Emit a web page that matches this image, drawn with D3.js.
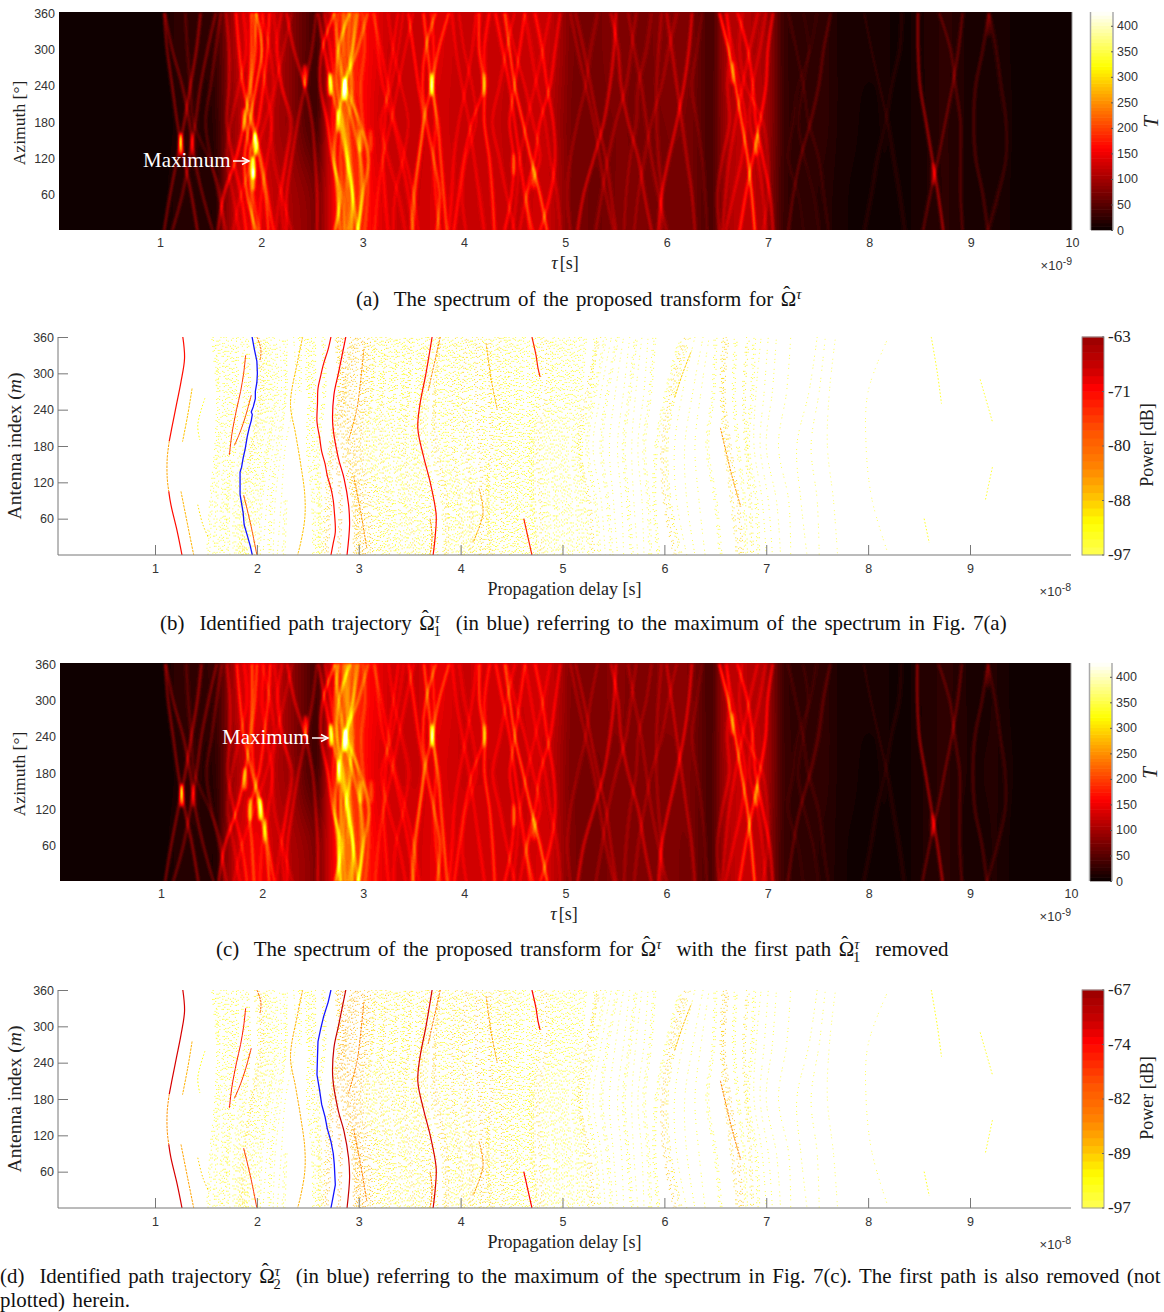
<!DOCTYPE html>
<html lang="en">
<head>
<meta charset="UTF-8">
<title>Spectrum and path trajectories</title>
<script src="https://cdn.jsdelivr.net/npm/d3@7"></script>
<style>
  body { margin: 0; background: #fff; }
  svg { display: block; }
  text { white-space: pre; }
  .serif { font-family: "Liberation Serif", serif; fill: #222; }
  .tick text, .sans { font-family: "Liberation Sans", sans-serif; font-size: 12.5px; fill: #333; }
</style>
</head>
<body>
<script type="text/javascript">
// spectrum background level, one value per 0.1 ns, read at azimuth 300 / 180 / 60
var baseTop = [0,0,0,0,0,0,0,0,0,0,3,22,24,24,24,28,70,110,130,135,125,115,90,70,50,35,110,160,190,175,155,140,125,120,120,120,130,135,130,120,120,125,125,125,120,120,125,125,120,100,75,72,72,72,78,78,72,72,72,78,78,78,72,50,38,90,110,110,105,105,75,32,22,20,22,24,15,8,6,6,6,6,5,5,6,14,18,20,18,12,8,10,12,8,2,0,0,0,0,0];
var baseMid = [0,0,0,0,0,0,0,0,0,0,0,6,20,25,12,25,65,100,120,120,115,100,90,70,45,35,110,155,180,170,150,130,122,120,120,120,128,132,125,120,120,120,120,120,112,112,120,120,112,92,72,68,68,68,72,74,72,72,68,72,74,74,68,50,42,85,108,118,112,108,75,34,24,22,24,24,15,8,6,5,5,6,5,5,6,12,18,20,16,12,10,12,12,10,4,0,0,0,0,0];
var baseBottom = [0,0,0,0,0,0,0,0,0,0,3,15,16,16,15,15,80,115,135,145,130,115,105,95,85,70,115,165,195,185,165,145,130,125,125,125,132,138,132,125,122,125,125,125,118,118,125,128,122,98,72,68,65,65,72,74,74,74,72,72,72,68,68,50,42,86,112,118,115,105,70,32,22,20,20,16,12,7,5,5,5,5,5,5,6,12,16,20,16,10,8,10,12,8,2,0,0,0,0,0];

// ridge positions in tau (ns) at these azimuths, first entry of a ridge is its height
var ridgeAz = [360,300,240,180,120,60,0];
var ridgesShared = [
  [75,1.04,1.07,1.12,1.17,1.235,1.31,1.37],[75,1.40,1.36,1.30,1.24,1.17,1.10,1.04],
  [60,1.05,1.12,1.22,1.29,1.34,1.42,1.52],[60,1.55,1.47,1.40,1.35,1.29,1.22,1.12],
  [45,1.60,1.55,1.50,1.45,1.50,1.58,1.65],[35,1.25,1.27,1.30,1.33,1.48,1.60,1.62],
  [85,1.90,1.90,1.88,1.83,1.75,1.63,1.57],[85,1.75,1.78,1.82,1.90,1.98,2.04,2.07],
  [70,2.08,2.06,2.02,1.97,1.88,1.90,1.92],[70,1.95,1.93,1.90,1.92,2.00,2.06,2.12],
  [40,2.20,2.15,2.20,2.30,2.25,2.20,2.22],[55,1.65,1.68,1.68,1.66,1.72,1.80,1.85],
  [65,2.25,2.32,2.43,2.50,2.53,2.55,2.55],[55,2.54,2.50,2.43,2.36,2.30,2.25,2.25],
  [85,2.72,2.60,2.58,2.65,2.70,2.78,2.72],[85,2.87,2.76,2.745,2.80,2.855,2.90,2.89],
  [75,2.56,2.62,2.69,2.77,2.84,2.90,2.95],[75,2.95,2.90,2.82,2.75,2.72,2.75,2.78],
  [65,3.05,2.95,2.83,2.90,2.98,3.00,2.95],[65,2.72,2.76,2.83,2.97,3.06,3.00,2.95],
  [40,2.82,2.82,2.84,2.84,2.86,2.83,2.82],[40,2.80,2.80,2.78,2.80,2.78,2.80,2.82],
  [50,2.92,2.90,2.88,2.95,2.97,2.98,2.96],
  [40,3.35,3.30,3.25,3.22,3.20,3.22,3.25],[40,3.12,3.15,3.20,3.30,3.38,3.45,3.50],
  [65,3.45,3.50,3.55,3.60,3.56,3.52,3.50],
  [85,3.60,3.64,3.68,3.74,3.77,3.80,3.83],[75,3.85,3.75,3.68,3.60,3.55,3.50,3.48],
  [75,3.72,3.62,3.59,3.63,3.70,3.76,3.73],[50,3.68,3.70,3.70,3.72,3.70,3.72,3.76],
  [80,4.15,4.15,4.20,4.20,4.25,4.28,4.30],[55,4.25,4.20,4.20,4.08,4.00,3.95,3.90],
  [60,4.31,4.38,4.45,4.50,4.55,4.60,4.65],[60,4.60,4.55,4.50,4.45,4.49,4.47,4.40],
  [100,4.40,4.45,4.50,4.58,4.66,4.75,4.82],[60,4.70,4.77,4.82,4.88,4.90,4.85,4.75],
  [55,4.95,4.90,4.85,4.75,4.70,4.62,4.68],
  [70,5.50,5.48,5.44,5.38,5.28,5.18,5.12],[55,5.45,5.52,5.55,5.62,5.72,5.78,5.85],
  [75,6.25,6.22,6.17,6.10,6.02,5.95,5.92],[50,6.00,6.05,6.10,6.15,6.20,6.25,6.28],
  [35,5.95,5.92,5.90,5.90,5.92,5.95,5.95],[40,5.10,5.18,5.25,5.32,5.40,5.45,5.50],
  [120,6.52,6.61,6.68,6.74,6.80,6.84,6.87],[80,7.05,7.00,6.98,6.92,6.85,6.78,6.72],
  [70,6.70,6.80,6.85,6.88,6.95,7.02,7.05],[45,6.60,6.62,6.60,6.62,6.55,6.50,6.52],
  [40,7.62,7.55,7.50,7.42,7.32,7.25,7.20],[22,7.20,7.28,7.35,7.40,7.50,7.55,7.60],
  [20,7.95,8.02,8.10,8.18,8.24,8.30,8.35],[16,8.32,8.30,8.22,8.16,8.08,8.02,7.95],
  [42,8.69,8.80,8.85,8.90,8.90,8.90,8.92],[90,8.48,8.48,8.50,8.56,8.62,8.68,8.73],
  [50,8.92,8.88,8.82,8.75,8.68,8.60,8.53],
  [42,9.18,9.12,9.05,9.03,9.05,9.12,9.17],[32,9.18,9.25,9.30,9.35,9.35,9.27,9.17]
];
// the fainter texture between the main ridges
var ridgesFine = [
  [30,2.12,2.16,2.20,2.28,2.24,2.18,2.14],[30,2.30,2.22,2.14,2.10,2.12,2.20,2.30],
  [35,1.82,1.85,1.78,1.70,1.66,1.72,1.78],[35,2.02,2.00,2.04,2.10,2.06,2.00,1.98],[30,2.00,2.08,2.12,2.04,1.92,1.80,1.72],
  [45,2.62,2.68,2.72,2.70,2.72,2.76,2.74],[45,2.88,2.86,2.90,2.86,2.88,2.90,2.86],[40,3.00,3.02,2.98,3.00,3.05,3.05,3.02],[40,2.76,2.74,2.80,2.82,2.84,2.86,2.85],
  [35,3.10,3.18,3.25,3.32,3.42,3.50,3.55],[35,3.50,3.42,3.35,3.28,3.20,3.15,3.12],[30,3.25,3.30,3.38,3.45,3.40,3.32,3.30],[30,3.40,3.35,3.28,3.18,3.25,3.35,3.42],
  [35,3.88,3.92,3.98,4.05,4.10,4.15,4.20],[35,4.12,4.08,4.02,3.95,3.90,3.88,3.85],[30,3.95,4.00,4.08,4.12,4.02,3.98,4.02],
  [35,4.50,4.42,4.35,4.28,4.35,4.42,4.50],[35,4.42,4.50,4.60,4.68,4.75,4.62,4.55],[30,4.85,4.78,4.70,4.62,4.55,4.52,4.48],[30,4.60,4.66,4.72,4.80,4.85,4.92,4.95],
  [35,5.05,5.12,5.20,5.28,5.34,5.40,5.48],[30,5.32,5.25,5.20,5.12,5.05,5.02,5.05],[35,5.70,5.65,5.60,5.50,5.42,5.36,5.30],
  [35,5.62,5.68,5.75,5.80,5.85,5.92,6.00],[30,5.85,5.80,5.72,5.70,5.64,5.60,5.58],[30,6.10,6.02,5.95,5.85,5.78,5.72,5.68],[25,6.35,6.30,6.25,6.30,6.35,6.38,6.40],
  [40,6.58,6.65,6.72,6.78,6.74,6.66,6.58],[40,6.90,6.82,6.75,6.68,6.62,6.58,6.55],[35,6.98,6.92,6.85,6.82,6.90,6.95,6.98],[30,6.75,6.72,6.78,6.95,7.00,7.00,6.95],
  [18,7.35,7.40,7.35,7.30,7.36,7.45,7.50],[15,7.48,7.42,7.30,7.25,7.20,7.30,7.35]
];
var ridgesFirstPath = [[100,1.95,2.005,1.95,1.885,1.835,1.86,1.95],[50,1.92,1.95,1.90,1.85,1.90,1.92,1.98]];
var ridgesExtraC = [[65,2.75,2.72,2.74,2.76,2.78,2.76,2.76],[65,2.84,2.84,2.86,2.88,2.82,2.80,2.78]];

// hot spots where ridges cross: tau, azimuth, height
var spotsShared = [[1.205,143,150],[1.32,143,55],[2.43,256,100],[2.68,242,150],[2.82,234,150],[2.76,182,80],[2.98,149,60],[3.08,149,40],[3.68,242,110],[4.2,242,60],[4.49,110,50],[4.69,88,50],[6.65,261,60],[6.89,143,60],[8.63,94,50],[9.18,340,25]];
var spotsA = [[1.92,105,170],[1.94,143,150],[1.83,184,70],[1.92,85,80]];
var spotsC = [[1.83,170,90],[1.98,120,130],[1.88,120,80],[2.03,85,60]];

// dotted traces: level in dB, then tau at these antenna indices
var stippleAz = [360,270,180,90,0];
var stippleTraces = [
  [-93,1.57,1.62,null,null,null],[-94,1.62,1.62,1.60,1.55,1.52],[-93,1.66,1.68,1.63,1.60,1.58],[-94,1.70,1.72,1.68,1.66,1.62],
  [-92,1.75,1.76,1.73,1.70,1.66],[-93,1.80,1.80,1.78,1.72,1.72],[-94,1.85,1.88,1.84,1.78,1.78],
  [-92,1.90,1.92,1.88,1.82,1.82],[-92,1.98,2.02,1.94,1.86,1.84],[-90,2.02,2.05,1.96,1.88,1.86],[-93,2.06,2.08,2.00,1.92,1.88],
  [-92,2.08,2.12,2.04,1.96,1.90],[-94,2.12,2.16,2.10,2.00,1.96],[-94,2.17,2.20,2.12,2.04,2.02],[-95,2.22,2.24,2.16,2.10,2.06],
  [-94,2.26,2.28,2.20,2.14,2.12],[-95,2.30,2.28,2.24,2.18,2.16],[-95,2.36,2.38,2.28,2.24,2.20],[-94,2.42,2.42,null,2.28,2.26],
  [-94,2.48,2.50,null,null,2.30],[-93,2.52,2.52,2.50,2.55,2.56],[-92,2.56,2.56,2.55,2.60,2.60],[-92,2.65,2.66,2.60,2.62,2.62],
  [-90,2.78,2.80,2.72,2.68,2.65],[-88,2.80,2.82,2.74,2.72,2.68],[-87,2.84,2.85,2.78,2.82,2.80],
  [-88,2.92,2.86,2.84,2.94,2.96],[-89,2.95,2.88,2.88,2.96,2.98],[-87,2.97,2.92,2.90,2.98,3.00],[-89,3.00,2.96,2.94,3.00,3.02],
  [-87,3.04,3.02,2.96,3.03,3.05],[-90,3.07,3.05,3.00,3.06,3.10],[-88,3.10,3.08,3.02,3.10,3.12],[-92,3.14,3.12,3.06,3.14,3.16],
  [-90,3.17,3.13,3.09,3.18,3.20],[-93,3.21,3.19,3.13,3.20,3.24],[-92,3.24,3.22,3.16,3.24,3.27],[-90,3.28,3.24,3.21,3.28,3.30],
  [-93,3.31,3.30,3.24,3.31,3.35],[-92,3.36,3.33,3.28,3.34,3.38],[-91,3.39,3.36,3.33,3.40,3.41],[-93,3.43,3.42,3.37,3.44,3.46],
  [-92,3.46,3.44,3.40,3.46,3.50],[-90,3.50,3.48,3.44,3.50,3.54],[-93,3.53,3.50,3.47,3.55,3.57],[-92,3.58,3.56,3.52,3.58,3.60],
  [-91,3.62,3.60,3.55,3.62,3.64],[-92,3.66,3.62,3.58,3.66,3.68],[-90,3.70,3.64,3.62,3.70,3.72],[-92,3.74,3.68,3.66,3.74,3.76],
  [-91,3.78,3.76,3.72,3.82,3.84],[-89,3.80,3.74,3.76,3.86,3.86],[-92,3.84,3.80,3.80,3.88,3.90],[-93,3.88,3.84,3.84,3.92,3.94],
  [-92,3.91,3.88,3.87,3.95,3.98],[-90,3.95,3.92,3.92,3.98,4.02],[-93,3.98,3.96,3.95,4.01,4.05],[-92,4.02,3.98,4.00,4.06,4.08],
  [-89,4.06,4.02,4.05,4.10,4.10],[-92,4.10,4.06,4.08,4.12,4.14],[-93,4.13,4.10,4.12,4.16,4.18],[-89,4.16,4.15,4.18,4.21,4.20],
  [-91,4.20,4.20,4.22,4.26,4.24],[-93,4.24,4.23,4.25,4.28,4.28],[-89,4.28,4.28,4.30,4.26,4.30],[-92,4.31,4.30,4.34,4.32,4.33],
  [-93,4.35,4.35,4.37,4.35,4.37],[-90,4.38,4.38,4.40,4.40,4.41],[-92,4.43,4.42,4.44,4.44,4.44],[-93,4.46,4.45,4.47,4.46,4.48],
  [-91,4.50,4.48,4.50,4.50,4.52],[-93,4.54,4.53,4.54,4.54,4.55],[-92,4.58,4.56,4.58,4.56,4.58],[-93,4.62,4.60,4.62,4.60,4.62],
  [-93,4.66,4.66,4.66,4.64,4.66],[-92,4.72,4.70,4.68,4.68,4.70],[-92,4.76,4.74,4.70,4.70,4.74],[-91,4.80,4.78,4.72,4.72,4.76],[-90,4.84,4.84,4.76,4.78,4.80],[-93,4.88,4.88,4.80,4.82,4.84],
  [-94,4.92,4.90,4.84,4.86,4.88],[-93,4.96,4.94,4.88,4.92,4.92],[-94,5.00,4.98,4.92,4.95,4.96],[-94,5.04,5.02,4.96,5.00,5.00],
  [-93,5.08,5.06,5.00,5.04,5.06],[-94,5.12,5.10,5.04,5.08,5.10],[-93,5.17,5.14,5.10,5.14,5.15],[-94,5.22,5.18,5.14,5.18,5.20],
  [-92,5.32,5.28,5.18,5.22,5.26],[-90,5.36,5.24,5.16,5.26,5.30],[-94,5.42,5.32,5.24,5.32,5.36],[-95,5.48,5.38,5.30,5.38,5.42],
  [-94,5.54,5.44,5.38,5.44,5.48],[-95,5.60,5.52,5.46,5.50,5.54],[-95,5.66,5.60,5.54,5.58,5.60],[-94,5.72,5.66,5.60,5.64,5.68],
  [-95,5.78,5.72,5.68,5.70,5.74],[-95,5.84,5.80,5.74,5.78,5.80],[-94,5.90,5.86,5.80,5.84,5.86],[-93,6.16,6.02,5.92,5.90,5.94],
  [-89,6.20,6.06,5.98,6.00,6.10],[-91,6.24,6.10,6.02,6.05,6.16],[-95,6.30,6.18,6.10,6.12,6.22],[-95,6.38,6.28,6.20,6.22,6.30],
  [-95,6.44,6.36,6.30,6.34,6.40],[-94,6.50,6.48,6.42,6.50,6.55],[-90,6.58,6.56,6.60,6.66,6.72],[-89,6.62,6.58,6.64,6.72,6.76],
  [-93,6.70,6.68,6.72,6.78,6.80],[-91,6.82,6.78,6.80,6.84,6.86],[-94,6.88,6.86,6.82,6.90,6.92],[-95,6.95,6.90,6.88,6.96,7.00],
  [-95,7.02,6.98,6.94,7.02,7.06],[-95,7.10,7.06,7.00,7.10,7.14],[-95,7.24,7.20,7.12,7.22,7.24],[-95,7.50,7.42,7.30,7.34,7.40],
  [-95,7.58,7.52,7.44,7.50,7.52],[-96,7.68,7.62,7.60,7.66,7.70],[-96,8.20,8.00,7.98,8.04,8.20]
];

// strokes on the delay plots: level in dB, then antenna index / tau pairs
var pathLines = [
  [-72,[360,1.273],[325,1.29],[286,1.255],[248,1.21],[209,1.164],[188,1.14]],[-86,[188,1.14],[160,1.12],[127,1.12],[105,1.135]],[-72,[105,1.135],[83,1.156],[39,1.218],[0,1.265]],
  [-71,[360,2.873],[300,2.80],[264,2.756],[215,2.745],[160,2.80],[127,2.855],[83,2.90],[50,2.91],[0,2.885]],
  [-72,[360,3.72],[300,3.66],[248,3.60],[209,3.58],[160,3.64],[121,3.70],[66,3.76],[30,3.75],[0,3.73]],
  [-74,[360,4.70],[330,4.74],[308,4.76],[294,4.78]],[-74,[60,4.62],[30,4.66],[0,4.70]],
  [-76,[330,1.89],[300,1.87],[270,1.84],[240,1.80],[200,1.755],[165,1.73]],
  [-78,[264,1.945],[230,1.89],[205,1.84],[181,1.78]],[-82,[360,2.00],[340,2.04],[320,2.03]],
  [-78,[99,1.87],[50,1.94],[0,2.00]],
  [-88,[360,2.45],[320,2.40],[250,2.33],[200,2.38],[150,2.43],[100,2.47],[60,2.47],[20,2.43],[0,2.40]],
  [-88,[275,1.364],[230,1.32],[187,1.27]],[-87,[105,1.255],[50,1.32],[0,1.38]],
  [-93,[259,1.49],[215,1.42],[190,1.44]],[-90,[83,1.42],[50,1.47],[27,1.53]],
  [-84,[360,3.80],[300,3.72],[270,3.68]],[-85,[60,3.70],[30,3.72],[0,3.70]],
  [-85,[340,3.05],[290,3.02],[240,2.98],[190,2.90]],[-85,[130,2.95],[70,3.02],[10,3.08]],
  [-87,[350,4.25],[290,4.30],[240,4.36]],[-86,[110,4.18],[70,4.22],[20,4.12]],
  [-89,[260,6.10],[300,6.18],[335,6.26]],[-85,[210,6.55],[160,6.62],[120,6.68],[80,6.75]],
  [-94,[360,8.62],[300,8.68],[250,8.72]],[-94,[60,8.55],[20,8.60]],[-95,[290,9.10],[220,9.22]],[-95,[145,9.22],[90,9.15]]
];
var firstPath = [[360,1.953],[340,1.975],[320,2.0],[300,2.005],[285,2.0],[270,1.985],[258,1.985],[245,1.965],[236,1.945],[232,1.955],[222,1.945],[210,1.925],[195,1.905],[175,1.885],[160,1.865],[145,1.85],[137,1.835],[120,1.835],[100,1.835],[85,1.85],[70,1.865],[50,1.875],[30,1.91],[15,1.935],[0,1.955]];
var secondPath = [[360,2.727],[340,2.70],[316,2.655],[295,2.625],[275,2.60],[250,2.595],[220,2.59],[195,2.615],[171,2.636],[150,2.67],[132,2.69],[110,2.727],[90,2.75],[72,2.76],[38,2.77],[20,2.75],[0,2.727]];

var tauTicks = [1,2,3,4,5,6,7,8,9,10];
var delayTicks = [1,2,3,4,5,6,7,8,9];
var azTicks = [60,120,180,240,300,360];
var heatTicks = [0,50,100,150,200,250,300,350,400];
var powerTicksB = [-97,-88.5,-80,-71.5,-63];
var powerTicksD = [-97,-89.5,-82,-74.5,-67];
var heatMax = 427;

var svg = d3.select("body").append("svg").attr("width", 1164).attr("height", 1312);

// MATLAB hot, 64 steps
var hotRamp = d3.scaleLinear().domain([0, 160, 320, 427]).range(["#0a0000", "#ff0000", "#ffff00", "#ffffff"]).clamp(true);
function hot(v) { return hotRamp((Math.floor(v / heatMax * 63.99) + 0.5) / 64 * heatMax); }

// delay plot colours, 28 steps, t = 0 at the weak end
var powerRamp = d3.scaleLinear().domain([0, 0.147, 0.294, 0.412, 0.559, 0.765, 0.853, 1])
  .range(["#ffff55", "#ffff00", "#ffb400", "#ff8000", "#ff5500", "#ff0000", "#cc0000", "#990000"]);

function gray(v) { var g = Math.min(255, Math.round(v / heatMax * 255)); return "rgb(" + g + "," + g + "," + g + ")"; }

function heatPanel(o) {
  var x = d3.scaleLinear().domain([1, 10]).range(o.xr);
  var y = d3.scaleLinear().domain([0, 360]).range([o.bottom + 1, o.top + 1]);
  var w = o.x1 - o.x0, h = o.bottom - o.top;

  // background level, scaled up with smoothing
  var small = document.createElement("canvas");
  small.width = baseTop.length; small.height = 3;
  var sc = small.getContext("2d");
  [baseTop, baseMid, baseBottom].forEach(function(row, j) {
    row.forEach(function(v, i) { sc.fillStyle = gray(v * o.gain); sc.fillRect(i, j, 1, 1); });
  });

  var canvas = document.createElement("canvas");
  canvas.width = w; canvas.height = h;
  var ctx = canvas.getContext("2d", { willReadFrequently: true });
  ctx.fillStyle = "#000"; ctx.fillRect(0, 0, w, h);
  ctx.imageSmoothingEnabled = true;
  ctx.imageSmoothingQuality = "high";
  ctx.drawImage(small, x(0) - o.x0, 0, x(10) - x(0), h);

  // ridges add up in value, then everything goes through the colormap
  ctx.globalCompositeOperation = "lighter";
  ctx.translate(-o.x0, -o.top);
  var line = d3.line().x(function(d) { return x(d[1]); }).y(function(d) { return y(d[0]); })
    .curve(d3.curveCatmullRom).context(ctx);
  ctx.filter = "blur(1.3px)";
  ctx.lineWidth = 2.4;
  o.ridges.forEach(function(r) {
    ctx.beginPath();
    line(ridgeAz.map(function(a, i) { return [a, r[i + 1]]; }));
    ctx.strokeStyle = gray(r[0]);
    ctx.stroke();
  });
  ctx.filter = "blur(1.6px)";
  o.spots.forEach(function(s) {
    ctx.beginPath();
    ctx.ellipse(x(s[0]), y(s[1]), 1.9, 12, 0, 0, 2 * Math.PI);
    ctx.fillStyle = gray(s[2] * 1.5);
    ctx.fill();
  });
  ctx.filter = "none";
  ctx.setTransform(1, 0, 0, 1, 0, 0);

  var lut = d3.range(256).map(function(g) { return d3.rgb(hot(g / 255 * heatMax)); });
  var img = ctx.getImageData(0, 0, w, h);
  for (var p = 0; p < img.data.length; p += 4) {
    var c = lut[img.data[p]];
    img.data[p] = c.r; img.data[p + 1] = c.g; img.data[p + 2] = c.b;
  }
  ctx.putImageData(img, 0, 0);

  svg.append("image").attr("x", o.x0).attr("y", o.top).attr("width", w).attr("height", h)
    .attr("href", canvas.toDataURL());
  svg.append("line").attr("x1", o.x1).attr("x2", o.x1).attr("y1", o.top).attr("y2", o.bottom).attr("stroke", "#999");

  var ax = svg.append("g").attr("transform", "translate(0," + o.bottom + ")")
    .call(d3.axisBottom(x).tickValues(tauTicks).tickSize(0).tickPadding(8));
  ax.select(".domain").remove();
  var ay = svg.append("g").attr("transform", "translate(" + o.x0 + ",0)")
    .call(d3.axisLeft(y).tickValues(azTicks).tickSize(0).tickPadding(4));
  ay.select(".domain").remove();

  // colorbar
  var cy = d3.scaleLinear().domain([0, heatMax]).range([o.bottom, o.top]);
  var levels = d3.range(64);
  var band = d3.scaleBand().domain(levels).range([o.bottom, o.top]);
  svg.append("g").selectAll("rect").data(levels).enter().append("rect")
    .attr("x", o.cb).attr("width", 22)
    .attr("y", function(d) { return band(d) - 0.3; })
    .attr("height", band.bandwidth() + 0.6)
    .attr("fill", function(d) { return hot((d + 0.5) / 64 * heatMax); });
  [o.cb - 0.5, o.cb + 22].forEach(function(ex) {
    svg.append("line").attr("x1", ex).attr("x2", ex).attr("y1", o.top).attr("y2", o.bottom)
      .attr("stroke", "#aaa").attr("stroke-width", 1.5);
  });
  var ac = svg.append("g").attr("transform", "translate(" + (o.cb + 22) + ",0)")
    .call(d3.axisRight(cy).tickValues(heatTicks).tickSizeInner(-2).tickSizeOuter(0).tickPadding(4));
  ac.select(".domain").remove();
  ac.selectAll("line").attr("stroke", "#555");

  label(o.ylabelX, (o.top + o.bottom) / 2 + 2, ["Azimuth [°]"], 17.6);
  label(o.cb + 61, (o.top + o.bottom) / 2 + 1, [{ t: "T", i: true }], 21);
  tauLabel(o.labelX, o.bottom + 39);
  expo(o.x1, o.bottom + 40, "-9");
}

function delayPanel(o) {
  var x = d3.scaleLinear().domain([1, 9]).range([155, 970]);
  var y = d3.scaleLinear().domain([0, 360]).range([o.bottom, o.top]);
  var clipId = "clip" + o.top;
  svg.append("clipPath").attr("id", clipId).append("rect")
    .attr("x", 58).attr("y", o.top).attr("width", 1013).attr("height", o.bottom - o.top);
  var g = svg.append("g").attr("clip-path", "url(#" + clipId + ")");
  var t = d3.scaleLinear().domain(o.range).range([0, 1]).clamp(true);
  var color = function(db) { return powerRamp(t(db)); };
  var line = d3.line().x(function(d) { return x(d[1]); }).y(function(d) { return y(d[0]); })
    .defined(function(d) { return d[1] != null; }).curve(d3.curveCatmullRom);

  // three offset passes over the same traces so the dots stop lining up in columns,
  // the weakest traces only get the first pass
  var passes = [
    { dx: 0, dash: ["1 2 1 5 1 3 1 7", "1 4 1 2 1 6 1 3", "1 3 1 6 1 2 1 5", "1 6 1 3 1 4 1 2"] },
    { dx: 1.6, dash: ["1 7 1 3 1 5 1 4", "1 3 1 8 1 2 1 6", "1 5 1 2 1 9 1 3", "1 2 1 6 1 5 1 7"] },
    { dx: -1.3, dash: ["1 9 1 4 1 11 1 6", "1 5 1 12 1 3 1 8", "1 11 1 6 1 4 1 9", "1 7 1 3 1 10 1 5"] }
  ];
  passes.forEach(function(p, k) {
    var traces = stippleTraces.filter(function(d) { return k === 0 || d[0] > -94.5; });
    g.append("g").attr("transform", "translate(" + p.dx + ",0)")
      .selectAll("path").data(traces).enter().append("path")
      .attr("d", function(d) { return line(stippleAz.map(function(a, i) { return [a, d[i + 1]]; })); })
      .attr("fill", "none").attr("stroke", function(d) { return color(d[0]); })
      .attr("stroke-width", 1).attr("opacity", 0.85)
      .attr("stroke-dasharray", function(d, i) { return p.dash[(i + k) % 4]; })
      .attr("stroke-dashoffset", function(d, i) { return (i * 11 + k * 5) % 17; });
  });

  g.selectAll(".sol").data(pathLines.concat(o.lines)).enter().append("path").attr("class", "sol")
    .attr("d", function(d) { return line(d.slice(1)); })
    .attr("fill", "none").attr("stroke", function(d) { return color(d[0]); })
    .attr("stroke-width", function(d) { return d[0] > -75 ? 1.2 : 1; })
    .attr("stroke-dasharray", function(d) { return d[0] > -80 ? null : (d[0] > -90 ? "2.5 1" : "1.5 2"); });

  g.append("path").attr("d", d3.line().x(function(d) { return x(d[1]); }).y(function(d) { return y(d[0]); })(o.blue))
    .attr("fill", "none").attr("stroke", "#1414ff").attr("stroke-width", 1.3);

  var ax = svg.append("g").attr("transform", "translate(0," + o.bottom + ")")
    .call(d3.axisBottom(x).tickValues(delayTicks).tickSizeInner(-10).tickSizeOuter(0).tickPadding(9));
  ax.select(".domain").remove();
  svg.append("line").attr("x1", 58).attr("x2", 1071).attr("y1", o.bottom).attr("y2", o.bottom).attr("stroke", "#777");
  ax.selectAll("line").attr("stroke", "#777");
  var ay = svg.append("g").attr("transform", "translate(58,0)")
    .call(d3.axisLeft(y).tickValues(azTicks).tickSizeInner(-10).tickSizeOuter(0).tickPadding(4));
  ay.select(".domain").remove();
  svg.append("line").attr("x1", 58).attr("x2", 58).attr("y1", o.top).attr("y2", o.bottom).attr("stroke", "#777");
  ay.selectAll("line").attr("stroke", "#777");

  // colorbar with its serif labels
  var steps = d3.range(28);
  var band = d3.scaleBand().domain(steps).range([o.bottom, o.top]);
  svg.append("g").selectAll("rect").data(steps).enter().append("rect")
    .attr("x", 1082).attr("width", 22)
    .attr("y", function(d) { return band(d) - 0.3; })
    .attr("height", band.bandwidth() + 0.6)
    .attr("fill", function(d) { return powerRamp((d + 0.5) / 28); });
  svg.append("rect").attr("x", 1082).attr("y", o.top).attr("width", 22).attr("height", o.bottom - o.top)
    .attr("fill", "none").attr("stroke", "#999");
  var cy = d3.scaleLinear().domain(o.range).range([o.bottom, o.top]);
  var cg = svg.append("g").selectAll("g").data(o.ticks).enter().append("g");
  cg.append("line").attr("x1", 1102).attr("x2", 1104)
    .attr("y1", function(d) { return cy(d); }).attr("y2", function(d) { return cy(d); }).attr("stroke", "#666");
  cg.append("text").attr("class", "serif").attr("x", 1108).attr("font-size", 17)
    .attr("y", function(d) { return cy(d) + 5; }).text(function(d) { return Math.round(d); });

  label(15, (o.top + o.bottom) / 2, ["Antenna index (", { t: "m", i: true }, ")"], 19.6);
  label(1147, (o.top + o.bottom) / 2 - 1, ["Power [dB]"], 18);
  svg.append("text").attr("class", "serif").attr("x", 564.5).attr("y", o.bottom + 40)
    .attr("text-anchor", "middle").attr("font-size", 18).text("Propagation delay [s]");
  expo(1071, o.bottom + 41, "-8");
}

function label(x, y, parts, size) {
  var t = svg.append("text").attr("class", "serif").attr("text-anchor", "middle").attr("font-size", size)
    .attr("transform", "translate(" + (x + 6) + "," + y + ") rotate(-90)");
  parts.forEach(function(p) {
    if (typeof p === "string") t.append("tspan").text(p);
    else t.append("tspan").attr("font-style", "italic").text(p.t);
  });
}

function tauLabel(x, y) {
  var t = svg.append("text").attr("class", "serif").attr("x", x).attr("y", y).attr("text-anchor", "middle").attr("font-size", 18);
  t.append("tspan").attr("font-style", "italic").text("τ");
  t.append("tspan").attr("dx", 2).text("[s]");
}

function expo(x, y, power) {
  var t = svg.append("text").attr("class", "sans").attr("x", x).attr("y", y).attr("text-anchor", "end").style("font-size", "13px");
  t.append("tspan").text("×10");
  t.append("tspan").attr("dy", -5).style("font-size", "10.5px").text(power);
}

// caption pieces: plain strings, or "O" / "O1" / "O2" for the Omega-hat symbol
function caption(x, y, parts) {
  var t = svg.append("text").attr("class", "serif").attr("x", x).attr("y", y)
    .attr("font-size", 20.9).attr("word-spacing", 2.3).style("fill", "#111");
  var back = 0;
  parts.forEach(function(p) {
    if (p[0] === "O" && p.length <= 2) {
      t.append("tspan").attr("dy", back).text("Ω");
      t.append("tspan").attr("dx", -13).attr("dy", -5).text("\u02c6");
      t.append("tspan").attr("dx", 6).attr("dy", -2).attr("font-size", 14.5).attr("font-style", "italic").text("τ");
      if (p.length === 2) {
        t.append("tspan").attr("dy", 13).attr("dx", -6.5).attr("font-size", 14.5).text(p[1]);
        back = -6;
      } else {
        back = 7;
      }
    } else {
      t.append("tspan").attr("dy", back).text(p);
      back = 0;
    }
  });
}

function annotate(x, y, ax0, ax1) {
  svg.append("text").attr("class", "serif").attr("x", x).attr("y", y).attr("font-size", 21)
    .style("fill", "#fff").text("Maximum");
  var ay = y - 6;
  svg.append("line").attr("x1", ax0).attr("x2", ax1 - 2).attr("y1", ay).attr("y2", ay).attr("stroke", "#fff").attr("stroke-width", 1.5);
  svg.append("path").attr("d", d3.line()([[ax1 - 7, ay - 3.5], [ax1, ay], [ax1 - 7, ay + 3.5]]))
    .attr("fill", "none").attr("stroke", "#fff").attr("stroke-width", 1.5);
}

heatPanel({ x0: 59, x1: 1072, top: 12, bottom: 230, xr: [160, 1072], cb: 1091, ylabelX: 19, labelX: 565, gain: 1,
  ridges: ridgesShared.concat(ridgesFine, ridgesFirstPath), spots: spotsShared.concat(spotsA) });
annotate(143, 167, 233, 249);
caption(356, 306, ["(a)  The spectrum of the proposed transform for ", "O"]);

delayPanel({ top: 337, bottom: 555, range: [-97, -63], ticks: powerTicksB, blue: firstPath, lines: [[-72].concat(secondPath)] });
caption(160, 630, ["(b)  Identified path trajectory ", "O1", "  (in blue) referring to the maximum of the spectrum in Fig. 7(a)"]);

heatPanel({ x0: 60, x1: 1071, top: 663, bottom: 881, xr: [161, 1071], cb: 1090, ylabelX: 19, labelX: 564, gain: 1.05,
  ridges: ridgesShared.concat(ridgesFine, ridgesExtraC), spots: spotsShared.concat(spotsC) });
annotate(222, 744, 312, 328);
caption(216, 956, ["(c)  The spectrum of the proposed transform for ", "O", "  with the first path ", "O1", "  removed"]);

delayPanel({ top: 990, bottom: 1208, range: [-97, -67], ticks: powerTicksD, blue: secondPath, lines: [] });
caption(0, 1283, ["(d)  Identified path trajectory ", "O2", "  (in blue) referring to the maximum of the spectrum in Fig. 7(c). The first path is also removed (not"]);
caption(0, 1307, ["plotted) herein."]);
</script>
</body>
</html>
